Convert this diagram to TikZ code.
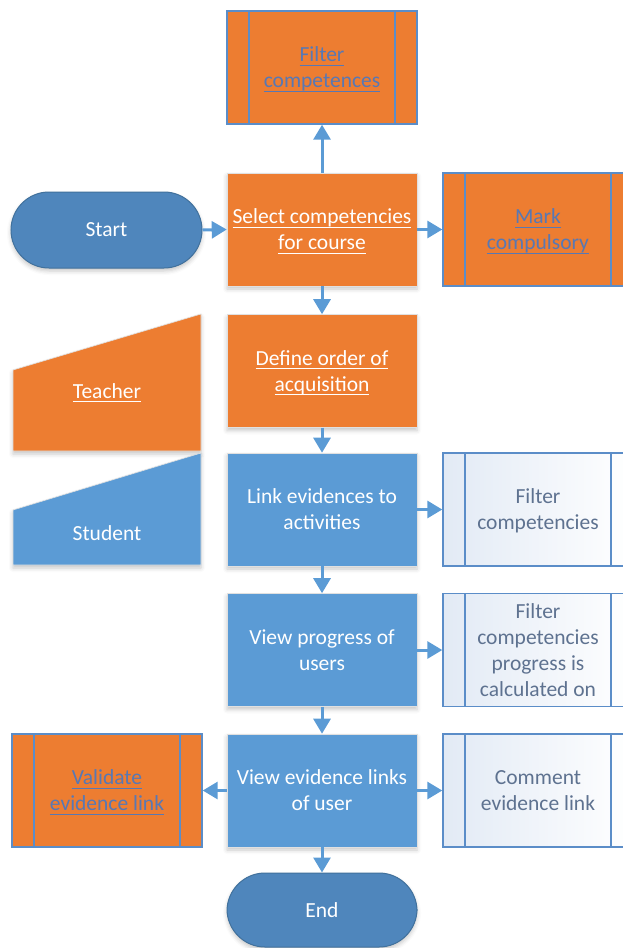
\documentclass[tikz,border=0pt]{standalone}
\usepackage{fontspec}
\setmainfont{Carlito}
\usetikzlibrary{arrows.meta,shadows.blur}

\definecolor{orng}{HTML}{ED7D31}
\definecolor{bluebox}{HTML}{5B9BD5}
\definecolor{termfill}{HTML}{4F86BC}
\definecolor{termline}{HTML}{41719C}
\definecolor{linkblue}{HTML}{5878B4}
\definecolor{paletxt}{HTML}{5E7290}
\definecolor{framel}{HTML}{5B8DC8}
\definecolor{paleblue}{HTML}{E2EAF5}

% underline at a fixed depth below the baseline
\newcommand{\ulx}[1]{\leavevmode\setbox0=\hbox{#1}\rlap{\copy0}\rule[-4pt]{\wd0}{1.1pt}}

\tikzset{
  base/.style={minimum width=190pt, minimum height=113pt, inner sep=0pt,
    align=center, text depth=0pt, font=\fontsize{21.5}{26}\selectfont},
  softshadow/.style={blur shadow={shadow xshift=0pt, shadow yshift=-3pt,
    shadow opacity=22, shadow blur radius=4pt}},
  procO/.style={base, fill=orng, draw=black!12, line width=0.6pt, text=white, softshadow},
  procB/.style={base, fill=bluebox, draw=black!12, line width=0.6pt, text=white, softshadow},
  sidebars/.style={path picture={
    \draw[framel, line width=1.4pt]
      ([xshift=22pt]path picture bounding box.north west) -- ([xshift=22pt]path picture bounding box.south west)
      ([xshift=-22pt]path picture bounding box.north east) -- ([xshift=-22pt]path picture bounding box.south east);}},
  subO/.style={base, fill=orng, draw=framel, line width=1.4pt, text=linkblue, sidebars},
  subW/.style={base, left color=paleblue, right color=white, draw=framel, line width=1.4pt,
    text=paletxt, sidebars},
  termnode/.style={base, minimum width=191pt, minimum height=76pt, rounded corners=38pt,
    fill=termfill, draw=termline, line width=1pt, text=white, softshadow},
  flow/.style={draw=bluebox, line width=3pt, -{Triangle[width=17pt,length=15pt]}},
  lbl/.style={font=\fontsize{21.5}{26}\selectfont, text=white, inner sep=0pt},
}

\begin{document}
\begin{tikzpicture}[x=1pt,y=-1pt]
\useasboundingbox (0,0) rectangle (623,948);
\clip (0,0) rectangle (623,948);

% role markers
\fill[orng, draw=black!12, line width=0.6pt, softshadow]
  (13,451) -- (13,370) -- (201,314) -- (201,451) -- cycle;
\node[lbl] (teacher) at (107,393) {\ulx{Teacher}};
\fill[bluebox, draw=black!12, line width=0.6pt, softshadow]
  (13,565) -- (13,510) -- (201,453) -- (201,565) -- cycle;
\node[lbl] (student) at (107,533) {Student};

% main flow
\node[termnode] (start) at (106.5,230) {Start};
\node[subO] (fc) at (322,67.5) {\ulx{Filter}\\\ulx{competences}};
\node[procO] (sel) at (322,229.5) {\ulx{Select competencies}\\\ulx{for course}};
\node[subO] (mark) at (538,229.5) {\ulx{Mark}\\\ulx{compulsory}};
\node[procO] (def) at (322,371) {\ulx{Define order of}\\\ulx{acquisition}};
\node[procB] (link) at (322,509.5) {Link evidences to\\activities};
\node[subW] (fcomp) at (538,509.5) {Filter\\competencies};
\node[procB] (prog) at (322,650) {View progress of\\users};
\node[subW] (fprog) at (538,650) {Filter\\competencies\\progress is\\calculated on};
\node[procB] (vel) at (322,790.5) {View evidence links\\of user};
\node[subO] (val) at (107,790.5) {\ulx{Validate}\\\ulx{evidence link}};
\node[subW] (com) at (538,790.5) {Comment\\evidence link};
\node[termnode, minimum width=190pt, minimum height=74pt] (end) at (322,910) {End};

% connectors
\draw[flow] (sel.north) -- (fc.south);
\draw[flow] (start.east) -- (sel.west);
\draw[flow] (sel.east) -- (mark.west);
\draw[flow] (sel.south) -- (def.north);
\draw[flow] (def.south) -- (link.north);
\draw[flow] (link.east) -- (fcomp.west);
\draw[flow] (link.south) -- (prog.north);
\draw[flow] (prog.east) -- (fprog.west);
\draw[flow] (prog.south) -- (vel.north);
\draw[flow] (vel.west) -- (val.east);
\draw[flow] (vel.east) -- (com.west);
\draw[flow] (vel.south) -- (end.north);
\end{tikzpicture}
\end{document}
